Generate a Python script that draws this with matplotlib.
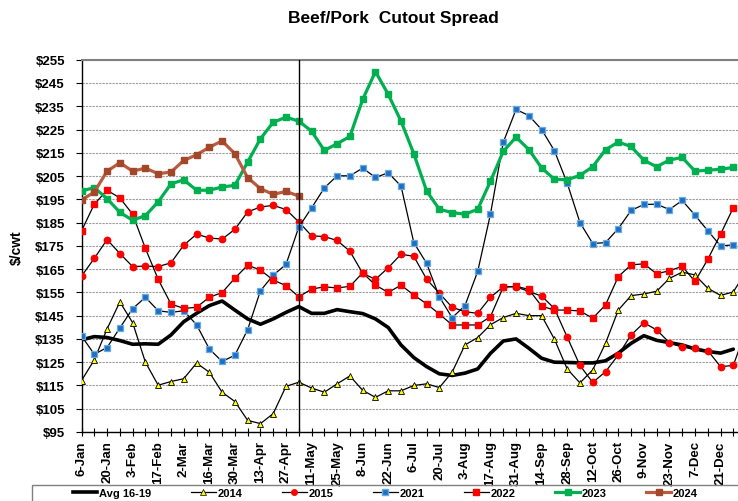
import matplotlib
matplotlib.use('Agg')
import matplotlib.pyplot as plt
from matplotlib.lines import Line2D
from matplotlib.patches import Rectangle
from matplotlib.ticker import MultipleLocator, FixedLocator

plt.rcParams['font.family'] = ['Liberation Sans', 'DejaVu Sans']

week_labels = ['6-Jan', '20-Jan', '3-Feb', '17-Feb', '2-Mar', '16-Mar', '30-Mar',
               '13-Apr', '27-Apr', '11-May', '25-May', '8-Jun', '22-Jun', '6-Jul',
               '20-Jul', '3-Aug', '17-Aug', '31-Aug', '14-Sep', '28-Sep', '12-Oct',
               '26-Oct', '9-Nov', '23-Nov', '7-Dec', '21-Dec']

avg_16_19 = [134.6, 136.0, 135.6, 134.3, 132.7, 132.9, 132.7, 136.7, 142.4, 146.0,
             149.3, 151.3, 147.4, 143.6, 141.3, 143.6, 146.4, 148.9, 146.0, 146.0,
             147.6, 146.7, 145.9, 143.6, 139.9, 132.4, 127.0, 123.1, 120.0, 119.3,
             120.3, 122.1, 128.8, 134.1, 135.0, 131.0, 126.7, 125.0, 124.9, 124.7,
             124.7, 125.6, 128.9, 133.1, 136.4, 134.4, 133.4, 132.4, 130.7, 129.6,
             128.9, 130.6]

y2014 = [117.1, 126.0, 139.3, 150.9, 142.0, 125.0, 115.1, 116.7, 117.9, 124.6,
         120.7, 112.1, 108.1, 100.0, 98.6, 102.9, 114.6, 116.4, 113.9, 112.1,
         115.7, 119.1, 112.9, 109.9, 112.7, 112.7, 115.0, 115.7, 114.1, 120.7,
         132.4, 135.6, 141.1, 144.2, 146.0, 145.0, 145.0, 134.9, 122.1, 116.1,
         121.7, 133.1, 147.4, 153.6, 154.3, 155.5, 161.0, 163.7, 162.5, 156.8,
         153.7, 155.2, 164.0]

y2015 = [162.0, 169.6, 177.7, 171.7, 166.1, 166.3, 166.1, 167.7, 175.3, 180.0,
         178.4, 177.9, 182.1, 189.6, 191.7, 192.4, 190.6, 185.3, 179.3, 179.0,
         177.3, 172.7, 163.2, 160.6, 165.6, 171.4, 170.5, 160.7, 154.6, 148.6,
         146.7, 146.0, 152.9, 157.4, 157.4, 155.4, 153.4, 148.1, 135.8, 123.6,
         116.3, 120.9, 128.1, 136.7, 141.9, 138.9, 133.4, 131.4, 131.0, 130.0,
         123.1, 123.6, 139.0]

y2021 = [136.3, 128.4, 131.3, 139.7, 148.0, 152.9, 147.1, 146.4, 147.1, 141.1,
         130.7, 125.3, 128.0, 139.0, 155.7, 162.4, 167.0, 183.0, 191.3, 199.9,
         205.1, 205.1, 208.4, 204.4, 206.4, 200.7, 176.4, 167.5, 153.1, 144.1,
         149.3, 164.0, 188.7, 219.5, 233.6, 231.0, 225.0, 215.9, 202.0, 185.0,
         176.0, 176.4, 182.4, 190.2, 192.8, 192.9, 190.6, 194.5, 188.2, 181.5,
         175.0, 175.4]

y2022 = [181.4, 192.9, 198.9, 195.6, 188.6, 173.9, 160.6, 150.0, 148.1, 148.6,
         152.9, 154.9, 161.1, 166.7, 164.6, 160.3, 157.9, 153.1, 156.4, 157.4,
         156.9, 157.6, 163.4, 158.1, 155.0, 158.1, 153.9, 150.1, 145.7, 141.0,
         141.0, 141.0, 144.6, 157.3, 157.6, 156.3, 149.1, 147.4, 147.4, 147.0,
         143.9, 149.6, 161.8, 166.8, 167.3, 163.0, 164.3, 166.2, 159.7, 169.2,
         180.0, 191.4]

y2023 = [198.6, 200.0, 195.3, 189.4, 186.0, 188.0, 193.9, 201.6, 203.4, 198.9,
         198.9, 200.3, 201.0, 211.0, 221.0, 228.1, 230.3, 228.6, 224.3, 216.0,
         218.9, 222.0, 237.9, 249.9, 240.1, 228.6, 214.6, 198.6, 190.7, 189.3,
         188.6, 190.7, 202.8, 215.6, 221.7, 216.4, 208.5, 203.6, 203.4, 205.3,
         209.0, 216.3, 219.6, 217.7, 211.8, 209.0, 211.9, 213.0, 207.1, 207.5,
         207.9, 208.7]

y2024 = [194.7, 198.1, 207.1, 210.7, 207.1, 208.4, 206.0, 206.7, 211.7, 214.1,
         217.4, 220.1, 214.6, 204.3, 199.6, 197.1, 198.4, 196.4]

fig = plt.figure(figsize=(7.38, 5.02), dpi=100)
W, H = 738.0, 502.0
ax = fig.add_axes([81.5 / W, 69 / H, 664.6 / W, 372.3 / H])

def wk(vals):
    return list(range(len(vals)))

ax.plot(wk(avg_16_19), avg_16_19, color='black', lw=2.6, solid_joinstyle='round',
        solid_capstyle='round', zorder=3)
ax.plot(wk(y2014), y2014, color='black', lw=0.9, marker='^', ms=5, mfc='#FFFF00',
        mec='black', mew=0.6, zorder=4)
ax.plot(wk(y2015), y2015, color='black', lw=0.9, marker='o', ms=4.6, mfc='#FF0000',
        mec='#FF0000', zorder=5)
ax.plot(wk(y2021), y2021, color='black', lw=0.9, marker='s', ms=4.4, mfc='#1F6FC0',
        mec='#6AAAE4', mew=0.9, zorder=6)
ax.plot(wk(y2022), y2022, color='black', lw=0.9, marker='s', ms=4.6, mfc='#FF0000',
        mec='#FF0000', zorder=7)
ax.plot(wk(y2023), y2023, color='#00B050', lw=2.3, marker='s', ms=5, mfc='#00B050',
        mec='#00B050', zorder=8)
ax.plot(wk(y2024), y2024, color='#B95B3F', lw=2.3, marker='s', ms=4.8, mfc='#A3472A',
        mec='#A3472A', zorder=9)

ax.axvline(len(y2024) - 1, color='black', lw=1, zorder=10)

ax.set_xlim(0, 52)
ax.set_ylim(95, 255)
yt = list(range(95, 256, 10))
ax.set_yticks(yt)
ax.set_yticklabels([r'\$%d' % v for v in yt], fontsize=9.5, fontweight='bold')
ax.xaxis.set_major_locator(FixedLocator(list(range(0, 52, 2))))
ax.set_xticklabels(week_labels, rotation=90, fontsize=9.5, fontweight='bold',
                   ha='center', va='top')
ax.xaxis.set_minor_locator(MultipleLocator(1))
ax.tick_params(axis='x', which='both', direction='inout', length=6, width=0.8, pad=3)
ax.tick_params(axis='y', length=4, width=0.8, pad=8)

ax.yaxis.grid(True, color='#9a9a9a', lw=0.8, ls=(0, (2, 1)))
ax.set_axisbelow(True)
for s in ['left', 'bottom']:
    ax.spines[s].set_color('black')
    ax.spines[s].set_linewidth(1)
ax.spines['top'].set_color('#808080')
ax.spines['top'].set_linewidth(1.5)
ax.spines['right'].set_visible(False)

fig.text(393 / W, 1 - 19 / H, 'Beef/Pork  Cutout Spread', ha='center', va='center',
         fontsize=12.5, fontweight='bold')
fig.text(17 / W, 1 - 248 / H, r'\$/cwt', rotation=90, ha='center', va='center',
         fontsize=10, fontweight='bold')

handles = [
    Line2D([], [], color='black', lw=2.6),
    Line2D([], [], color='black', lw=0.9, marker='^', ms=4, mfc='#FFFF00', mec='black', mew=0.5),
    Line2D([], [], color='black', lw=0.9, marker='o', ms=4, mfc='#FF0000', mec='#FF0000'),
    Line2D([], [], color='black', lw=0.9, marker='s', ms=4, mfc='#1F6FC0', mec='#6AAAE4'),
    Line2D([], [], color='black', lw=0.9, marker='s', ms=4, mfc='#FF0000', mec='#FF0000'),
    Line2D([], [], color='#00B050', lw=2.3, marker='s', ms=4, mfc='#00B050', mec='#00B050'),
    Line2D([], [], color='#B95B3F', lw=2.3, marker='s', ms=4, mfc='#A3472A', mec='#A3472A'),
]
labels = ['Avg 16-19', '2014', '2015', '2021', '2022', '2023', '2024']
fig.legend(handles, labels, loc='center left', bbox_to_anchor=(73 / W, 1 - 494 / H),
           ncol=7, frameon=False, prop={'weight': 'bold', 'size': 8},
           handlelength=2.2, handletextpad=0.15, columnspacing=3.6,
           borderpad=0, borderaxespad=0)
fig.patches.append(Rectangle((32 / W, -0.05), 0.99, (502 - 486) / H + 0.05,
                             transform=fig.transFigure, fill=False,
                             edgecolor='#808080', lw=1))

fig.savefig('out.png', dpi=100)
